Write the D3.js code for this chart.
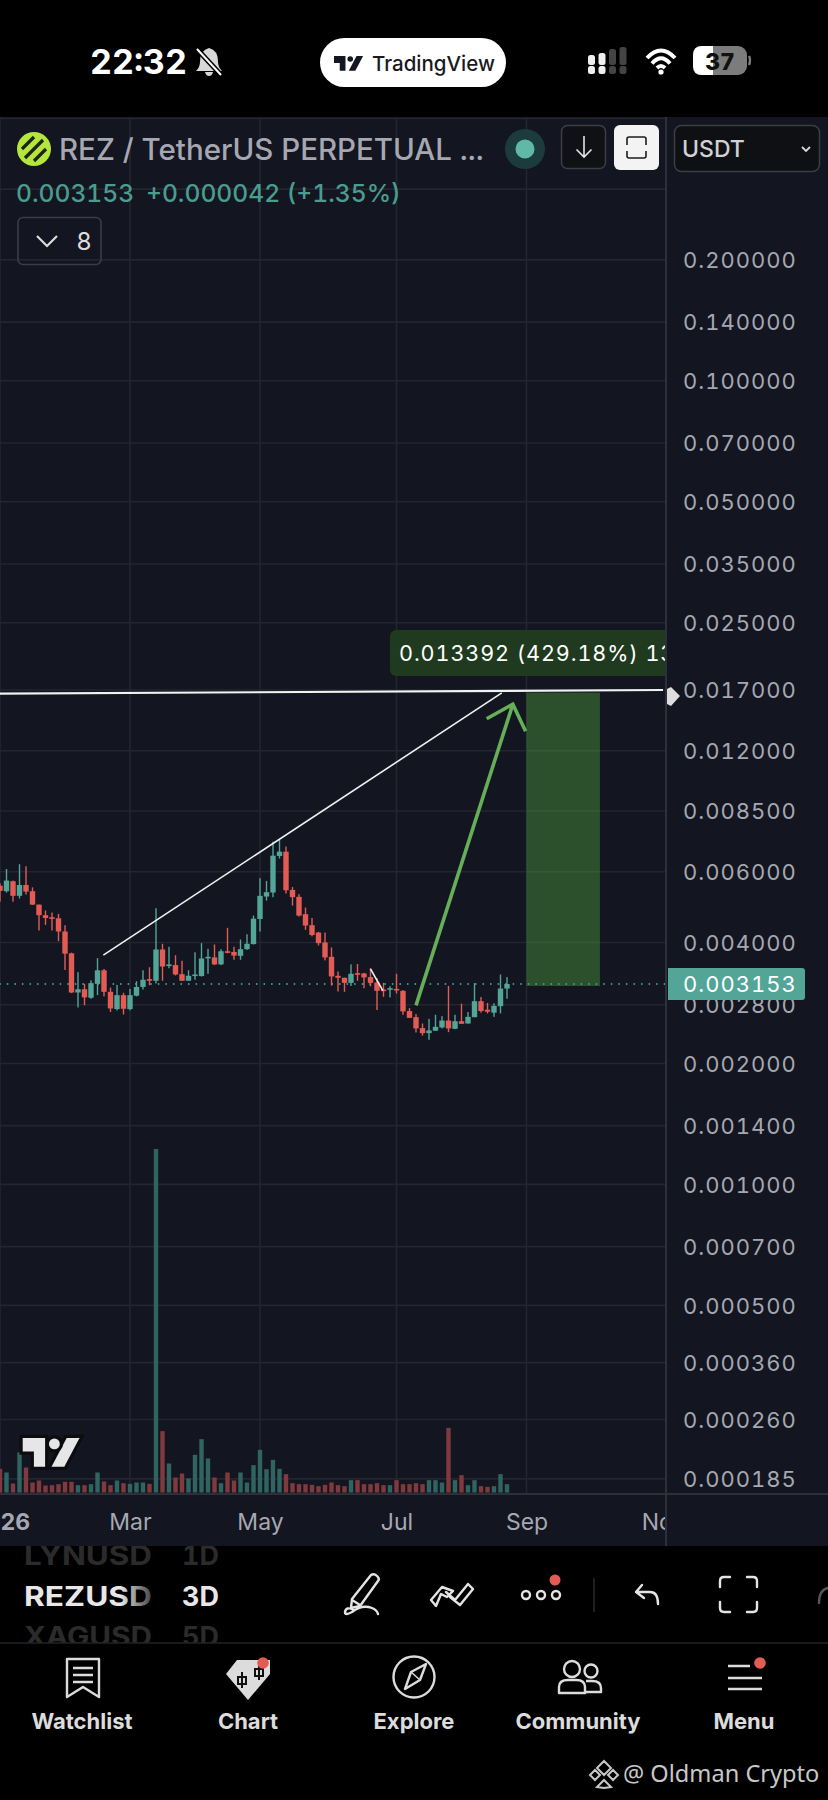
<!DOCTYPE html>
<html>
<head>
<meta charset="utf-8">
<title>REZUSDT</title>
<script src="https://cdn.jsdelivr.net/npm/d3@7"></script>
<style>
  html, body { margin: 0; padding: 0; background: #000; }
  svg { display: block; font-family: Inter, "Noto Sans", sans-serif; font-variant-numeric: tabular-nums; }
</style>
</head>
<body>
<svg id="chart" width="828" height="1800" viewBox="0 0 828 1800"></svg>
<script>
// 3D candles, one every three days from Jan 1 2026
const open = [0.005539, 0.005366, 0.005682, 0.005226, 0.005561, 0.005366, 0.004969, 0.004677, 0.004622, 0.004595,
  0.004260, 0.003759, 0.003003, 0.003060, 0.002914, 0.003156, 0.003411, 0.003015, 0.002731, 0.002958,
  0.002731, 0.002948, 0.003100, 0.003243, 0.003212, 0.003842, 0.003499, 0.003514, 0.003336, 0.003212,
  0.003305, 0.003299, 0.003657, 0.003671, 0.003528, 0.003804, 0.003789, 0.003705, 0.003849, 0.003963,
  0.004576, 0.005206, 0.005326, 0.006567, 0.006731, 0.005406, 0.005196, 0.004704, 0.004416, 0.004234,
  0.004000, 0.003684, 0.003305, 0.003268, 0.003174, 0.003355, 0.003349, 0.003280, 0.003180, 0.003055,
  0.003055, 0.003066, 0.003032, 0.002700, 0.002607, 0.002449, 0.002379, 0.002412, 0.002458, 0.002557,
  0.002439, 0.002547, 0.002514, 0.002607, 0.002857, 0.002721, 0.002675, 0.002777, 0.003072]
const high = [0.005616, 0.006094, 0.005704, 0.006264, 0.006191, 0.005486, 0.004969, 0.004805, 0.004749, 0.004713,
  0.004416, 0.003774, 0.003374, 0.003156, 0.003218, 0.003657, 0.003437, 0.003089, 0.003137, 0.002998,
  0.003066, 0.003205, 0.003411, 0.003471, 0.004868, 0.003970, 0.003902, 0.003718, 0.003603, 0.003411,
  0.003782, 0.003985, 0.003857, 0.003955, 0.003849, 0.004350, 0.003902, 0.004068, 0.004193, 0.004667,
  0.005781, 0.005693, 0.007131, 0.007198, 0.006932, 0.005496, 0.005276, 0.004887, 0.004604, 0.004250,
  0.004234, 0.003887, 0.003386, 0.003268, 0.003528, 0.003535, 0.003361, 0.003451, 0.003262, 0.003174,
  0.003112, 0.003343, 0.003043, 0.002746, 0.002654, 0.002514, 0.002581, 0.002643, 0.002622, 0.003118,
  0.002643, 0.002817, 0.002685, 0.003168, 0.002926, 0.002829, 0.002823, 0.003330, 0.003280]
const low = [0.005055, 0.005326, 0.005055, 0.005146, 0.005266, 0.004960, 0.004284, 0.004424, 0.004284, 0.004030,
  0.003417, 0.002992, 0.002757, 0.002792, 0.002897, 0.002958, 0.002937, 0.002685, 0.002711, 0.002648,
  0.002711, 0.002937, 0.003055, 0.003131, 0.003162, 0.003212, 0.003451, 0.003312, 0.003212, 0.003212,
  0.003230, 0.003293, 0.003343, 0.003514, 0.003514, 0.003759, 0.003623, 0.003623, 0.003834, 0.003955,
  0.004259, 0.005086, 0.005186, 0.006470, 0.005296, 0.004941, 0.004640, 0.004300, 0.004143, 0.003932,
  0.003610, 0.003125, 0.003021, 0.003015, 0.003118, 0.003212, 0.003078, 0.003112, 0.002716, 0.002931,
  0.002920, 0.002986, 0.002643, 0.002597, 0.002388, 0.002346, 0.002290, 0.002412, 0.002444, 0.002393,
  0.002434, 0.002510, 0.002514, 0.002607, 0.002675, 0.002664, 0.002612, 0.002664, 0.002897]
const close = [0.005376, 0.005704, 0.005226, 0.005561, 0.005356, 0.004969, 0.004677, 0.004604, 0.004585, 0.004260,
  0.003752, 0.003003, 0.003060, 0.002920, 0.003168, 0.003411, 0.003015, 0.002741, 0.002958, 0.002736,
  0.002958, 0.003100, 0.003230, 0.003212, 0.003842, 0.003485, 0.003528, 0.003330, 0.003212, 0.003305,
  0.003330, 0.003650, 0.003684, 0.003528, 0.003804, 0.003774, 0.003711, 0.003849, 0.003970, 0.004585,
  0.005226, 0.005336, 0.006579, 0.006731, 0.005396, 0.005186, 0.004667, 0.004408, 0.004176, 0.003985,
  0.003671, 0.003293, 0.003268, 0.003174, 0.003343, 0.003324, 0.003274, 0.003174, 0.003032, 0.003026,
  0.003078, 0.003043, 0.002695, 0.002597, 0.002444, 0.002379, 0.002416, 0.002467, 0.002557, 0.002444,
  0.002547, 0.002510, 0.002612, 0.002857, 0.002700, 0.002690, 0.002782, 0.003072, 0.003153]
const volume = [71, 60, 27, 120, 75, 30, 36, 21, 22, 25,
  32, 32, 22, 22, 25, 60, 33, 22, 36, 28,
  26, 30, 30, 26, 1030, 184, 87, 45, 57, 42,
  113, 160, 102, 45, 28, 60, 36, 60, 30, 82,
  128, 70, 98, 71, 55, 28, 25, 25, 23, 19,
  23, 30, 22, 19, 37, 37, 25, 25, 28, 22,
  22, 37, 25, 25, 28, 25, 37, 37, 30, 194,
  37, 52, 22, 37, 19, 17, 19, 55, 25]

const priceTicks = [0.2, 0.14, 0.1, 0.07, 0.05, 0.035, 0.025, 0.017, 0.012, 0.0085, 0.006, 0.004, 0.0028,
  0.002, 0.0014, 0.001, 0.0007, 0.0005, 0.00036, 0.00026, 0.000185]
const hiddenGrid = [0.45, 0.3]
const timeTicks = [0, 20, 40, 61, 81, 102]
const timeLabels = ['2026', 'Mar', 'May', 'Jul', 'Sep', 'Nov']
const lastPrice = 0.003153
const targetPrice = 0.01675
const targetLine = [[0, 0.01665], [102, 0.01700]]
const trendLine = [[15.9, 0.003722], [77.2, 0.01672]]
const smallLine = [[57, 0.003437], [58.9, 0.003037]]
const arrowLine = [[64, 0.002789], [78.9, 0.015675]]
const boxRange = [81, 92.3]

const BG = '#131520'
const GRID = '#23262f'
const AXIS = '#2d3039'
const GREEN = '#52a597'
const RED = '#e25c55'
const LABEL = '#a6a8b1'

const svg = d3.select('#chart')
const x = d3.scaleLinear().domain([0, 102]).range([0, 663])
const y = d3.scaleLog().domain([lastPrice, 0.017]).range([984, 690])
const yVol = d3.scaleLinear().domain([0, 1030]).range([1492.5, 1149])

svg.append('rect').attr('width', 828).attr('height', 1800).attr('fill', '#000')
svg.append('rect').attr('y', 117).attr('width', 828).attr('height', 1429).attr('fill', BG)

const defs = svg.append('defs')
defs.append('clipPath').attr('id', 'plot').append('rect')
  .attr('y', 117).attr('width', 666).attr('height', 1377)
defs.append('clipPath').attr('id', 'tape').append('rect')
  .attr('x', 0).attr('y', 1546).attr('width', 240).attr('height', 97)
const fade = defs.append('linearGradient').attr('id', 'fade')
  .attr('gradientUnits', 'userSpaceOnUse')
  .attr('x1', 120).attr('x2', 152).attr('y1', 0).attr('y2', 0)
fade.append('stop').attr('offset', 0).attr('stop-color', '#e8e8e8')
fade.append('stop').attr('offset', 1).attr('stop-color', '#444')

drawGrid()
const plot = svg.append('g').attr('clip-path', 'url(#plot)')
drawVolume(plot)
drawTarget(plot)
drawCandles(plot)
drawDrawings(plot)
drawAxes()
drawHeader()
drawStatusBar()
drawToolbar()
drawNav()

/**
 * Grid lines behind everything, from the same ticks as the axes.
 */
function drawGrid () {
  const g = svg.append('g').attr('stroke', GRID).attr('stroke-width', 1.6)
  g.selectAll('.h').data(priceTicks.concat(hiddenGrid)).join('line')
    .attr('x1', 0).attr('x2', 666)
    .attr('y1', d => y(d)).attr('y2', d => y(d))
  g.selectAll('.v').data(timeTicks.slice(0, 5)).join('line')
    .attr('x1', d => x(d)).attr('x2', d => x(d))
    .attr('y1', 117).attr('y2', 1494)
}

/**
 * Volume histogram at the foot of the chart.
 */
function drawVolume (g) {
  g.append('g').selectAll('rect').data(volume).join('rect')
    .attr('x', (d, i) => x(i) - 2.2)
    .attr('y', d => yVol(d))
    .attr('width', 4.4)
    .attr('height', d => yVol(0) - yVol(d))
    .attr('fill', (d, i) => close[i] >= open[i] ? '#2f6461' : '#803a3d')
}

/**
 * Wicks and bodies of the candles.
 */
function drawCandles (g) {
  const color = i => close[i] >= open[i] ? GREEN : RED
  const candle = g.append('g').selectAll('g').data(open).join('g')
  candle.append('rect')
    .attr('x', (d, i) => x(i) - 0.7)
    .attr('y', (d, i) => y(high[i]))
    .attr('width', 1.4)
    .attr('height', (d, i) => y(low[i]) - y(high[i]))
    .attr('fill', (d, i) => color(i))
  candle.append('rect')
    .attr('x', (d, i) => x(i) - 2.7)
    .attr('y', (d, i) => y(Math.max(open[i], close[i])))
    .attr('width', 5.4)
    .attr('height', (d, i) => Math.max(1.6, Math.abs(y(open[i]) - y(close[i]))))
    .attr('fill', (d, i) => color(i))
}

/**
 * Green long-position box and its label.
 */
function drawTarget (g) {
  g.append('rect')
    .attr('x', x(boxRange[0]))
    .attr('y', y(targetPrice))
    .attr('width', x(boxRange[1]) - x(boxRange[0]))
    .attr('height', y(lastPrice) - y(targetPrice) + 2)
    .attr('fill', '#53a93c')
    .attr('opacity', 0.4)
  g.append('line')
    .attr('x1', 0).attr('x2', 666)
    .attr('y1', y(lastPrice)).attr('y2', y(lastPrice))
    .attr('stroke', '#3f9d90')
    .attr('stroke-width', 1.8)
    .attr('stroke-linecap', 'round')
    .attr('stroke-dasharray', '0.1 7.45')
  g.append('rect')
    .attr('x', 390).attr('y', 630)
    .attr('width', 300).attr('height', 46)
    .attr('rx', 6)
    .attr('fill', '#1f3a1f')
  g.append('text')
    .attr('x', 399).attr('y', 661)
    .attr('font-size', 21.6)
    .attr('letter-spacing', 0.9)
    .attr('fill', '#fff')
    .text('0.013392 (429.18%) 13392')
}

/**
 * Hand drawn lines: target, trend lines and the arrow.
 */
function drawDrawings (g) {
  const line = d3.line().x(d => x(d[0])).y(d => y(d[1]))
  g.append('path').attr('d', line(targetLine))
    .attr('stroke', '#f2f2f2').attr('stroke-width', 2.2).attr('fill', 'none')
  g.append('path').attr('d', line(trendLine))
    .attr('stroke', '#f2f2f2').attr('stroke-width', 1.6).attr('fill', 'none')
  g.append('path').attr('d', line(smallLine))
    .attr('stroke', '#f2f2f2').attr('stroke-width', 1.6).attr('fill', 'none')

  const [from, to] = arrowLine
  const tx = x(to[0])
  const ty = y(to[1])
  const angle = Math.atan2(ty - y(from[1]), tx - x(from[0]))
  const arm = a => [tx - 30 * Math.cos(angle + a), ty - 30 * Math.sin(angle + a)]
  g.append('path').attr('d', line(arrowLine))
    .attr('stroke', '#66ae58').attr('stroke-width', 3.6).attr('fill', 'none')
  g.append('path').attr('d', d3.line()([arm(0.75), [tx, ty], arm(-0.75)]))
    .attr('stroke', '#66ae58').attr('stroke-width', 3.6).attr('fill', 'none')

  tvLogo(g, 22.7, 1438, 1.6, '#e6e6e8', '#0c0c0f')
}

/**
 * Price axis, time axis and the last price tag.
 */
function drawAxes () {
  const right = svg.append('g')
    .attr('transform', 'translate(666,0)')
    .call(d3.axisRight(y).tickValues(priceTicks).tickSize(0).tickPadding(17).tickFormat(d3.format('.6f')))
  right.select('.domain').remove()
  right.selectAll('text')
    .attr('font-family', 'Inter')
    .attr('font-size', 22)
    .attr('letter-spacing', 1)
    .attr('dy', '0.35em')
    .attr('fill', LABEL)

  const bottom = svg.append('g')
    .attr('transform', 'translate(0,1494)')
    .attr('clip-path', 'url(#timeClip)')
    .call(d3.axisBottom(x).tickValues(timeTicks).tickSize(0).tickPadding(20).tickFormat((d, i) => timeLabels[i]))
  defs.append('clipPath').attr('id', 'timeClip').append('rect')
    .attr('y', 0).attr('width', 666).attr('height', 50)
  bottom.select('.domain').remove()
  bottom.selectAll('text')
    .attr('font-family', 'Inter')
    .attr('font-size', 23)
    .attr('fill', LABEL)
    .attr('font-weight', (d, i) => i === 0 ? 700 : 400)

  svg.append('line').attr('x1', 0).attr('x2', 828).attr('y1', 1494).attr('y2', 1494)
    .attr('stroke', AXIS).attr('stroke-width', 2)
  svg.append('line').attr('x1', 666).attr('x2', 666).attr('y1', 117).attr('y2', 1546)
    .attr('stroke', AXIS).attr('stroke-width', 2)

  svg.append('path')
    .attr('d', 'M668 968 H802 Q805 968 805 971 V997 Q805 1000 802 1000 H668 Z')
    .attr('fill', GREEN)
  svg.append('text')
    .attr('x', 683).attr('y', y(lastPrice) + 8)
    .attr('font-size', 22).attr('letter-spacing', 1).attr('fill', '#fff')
    .text(d3.format('.6f')(lastPrice))

  svg.append('path')
    .attr('d', 'M667 689 L671 687 L680 696 L671 706 L667 704 Z')
    .attr('fill', '#dedede')
}

/**
 * Symbol line, change line and the buttons above the chart.
 */
function drawHeader () {
  svg.append('circle').attr('cx', 34).attr('cy', 149).attr('r', 17).attr('fill', '#b4e63c')
  svg.append('g').attr('stroke', '#1c2318').attr('stroke-width', 3.2)
    .selectAll('line').data([[-6, 6], [0, 9], [6, 6]]).join('line')
    .attr('x1', d => 34 + d[0] - d[1]).attr('y1', d => 149 + d[0] + d[1])
    .attr('x2', d => 34 + d[0] + d[1]).attr('y2', d => 149 + d[0] - d[1])

  svg.append('text').attr('x', 59).attr('y', 160)
    .attr('font-size', 29.5).attr('font-weight', 500).attr('fill', LABEL)
    .text('REZ / TetherUS PERPETUAL ...')

  svg.append('circle').attr('cx', 525).attr('cy', 149).attr('r', 20).attr('fill', '#1b3b3c')
  svg.append('circle').attr('cx', 525).attr('cy', 149).attr('r', 9.5).attr('fill', '#62b8a8')

  svg.append('rect').attr('x', 561.5).attr('y', 125.5).attr('width', 44).attr('height', 43).attr('rx', 6)
    .attr('fill', '#101114').attr('stroke', '#3c3e44').attr('stroke-width', 1.5)
  svg.append('path').attr('d', 'M584 136 V157 M576.5 149.5 L584 157 L591.5 149.5')
    .attr('stroke', '#e4e4e4').attr('stroke-width', 1.6).attr('fill', 'none')
  svg.append('rect').attr('x', 614).attr('y', 125).attr('width', 45).attr('height', 45).attr('rx', 6)
    .attr('fill', '#f3f3f3')
  svg.append('path')
    .attr('d', 'M627 145 V139 Q627 137 629 137 H644 Q646 137 646 139 V145 M627 151 V156 Q627 158 629 158 H644 Q646 158 646 156 V151')
    .attr('stroke', '#1c1c1e').attr('stroke-width', 1.6).attr('fill', 'none')

  svg.append('rect').attr('x', 674.5).attr('y', 125.5).attr('width', 145).attr('height', 46).attr('rx', 7)
    .attr('fill', '#0f1013').attr('stroke', '#3c3e44').attr('stroke-width', 1.5)
  svg.append('text').attr('x', 682).attr('y', 157)
    .attr('font-size', 23).attr('font-weight', 500).attr('fill', '#d0d1d5').text('USDT')
  svg.append('path').attr('d', 'M802 147 L806 151 L810 147')
    .attr('stroke', '#d8d8d8').attr('stroke-width', 1.8).attr('fill', 'none')

  svg.append('text').attr('x', 16).attr('y', 201.5)
    .attr('font-size', 24.6).attr('font-weight', 500).attr('fill', '#4a9c8f')
    .text('0.003153')
  svg.append('text').attr('x', 146).attr('y', 201.5)
    .attr('font-size', 24.6).attr('font-weight', 500).attr('fill', '#4a9c8f')
    .text('+0.000042 (+1.35%)')

  svg.append('rect').attr('x', 18).attr('y', 217.5).attr('width', 83).attr('height', 47).attr('rx', 5)
    .attr('fill', 'none').attr('stroke', '#3a3d47').attr('stroke-width', 1.6)
  svg.append('path').attr('d', 'M37 236 L47 246 L57 236')
    .attr('stroke', '#dcdcdc').attr('stroke-width', 2.2).attr('fill', 'none')
  svg.append('text').attr('x', 84).attr('y', 250).attr('text-anchor', 'middle')
    .attr('font-size', 24).attr('fill', '#dcdcdc').text('8')
}

/**
 * Phone status bar, with the TradingView pill.
 */
function drawStatusBar () {
  svg.append('text').attr('x', 90).attr('y', 74)
    .attr('font-size', 34).attr('font-weight', 700).attr('fill', '#fff').text('22:32')
  svg.append('path')
    .attr('d', 'M209 48 Q218 50 218 62 Q218 67 222 71 H196 Q200 67 200 62 Q200 50 209 48 Z M205 72 H213 Q212 76 209 76 Q206 76 205 72 Z')
    .attr('fill', '#d8d8d8')
  svg.append('path').attr('d', 'M197 49 L221 75')
    .attr('stroke', '#000').attr('stroke-width', 5)
  svg.append('path').attr('d', 'M197 49 L221 75')
    .attr('stroke', '#fff').attr('stroke-width', 2)

  svg.append('rect').attr('x', 320).attr('y', 38).attr('width', 186).attr('height', 49).attr('rx', 24.5)
    .attr('fill', '#fff')
  tvLogo(svg, 334, 56, 0.82, '#131722')
  svg.append('text').attr('x', 372).attr('y', 70.5)
    .attr('font-size', 20.5).attr('font-weight', 500).attr('fill', '#1a1a1e').text('TradingView')

  // signal bars, two lit and two dim
  svg.append('g').selectAll('rect').data([0, 1, 2, 3, 4, 5, 6, 7]).join('rect')
    .attr('x', d => 588 + (d % 4) * 10.5)
    .attr('y', d => d < 4 ? 66 : 47 + [8, 6, 2, 0][d - 4])
    .attr('width', 7)
    .attr('height', d => d < 4 ? 8 : 14 - [0, -2, -6, -8][d - 4] - 4)
    .attr('rx', 2.5)
    .attr('fill', d => (d === 0 || d === 1 || d === 4 || d === 5) ? '#f0f0f0' : '#444')

  svg.append('path').attr('d', 'M647 58 Q661 43 675 58 M652 63.5 Q661 53 670 63.5 M657 68 Q661 64 665 68')
    .attr('stroke', '#fff').attr('stroke-width', 4).attr('fill', 'none')
  svg.append('circle').attr('cx', 661).attr('cy', 72).attr('r', 2.6).attr('fill', '#fff')

  svg.append('rect').attr('x', 693).attr('y', 46).attr('width', 54).attr('height', 29).attr('rx', 9).attr('fill', '#7c7c7c')
  svg.append('path').attr('d', 'M702 46 H713 V75 H702 Q693 75 693 66 V55 Q693 46 702 46 Z').attr('fill', '#fff')
  svg.append('path').attr('d', 'M749 56 Q751 60 749 65').attr('stroke', '#7c7c7c').attr('stroke-width', 2.4).attr('fill', 'none')
  svg.append('text').attr('x', 720).attr('y', 70).attr('text-anchor', 'middle')
    .attr('font-size', 23).attr('font-weight', 800).attr('fill', '#111').text('37')
}

/**
 * TradingView mark, drawn on a 36 by 18 grid.
 */
function tvLogo (g, left, top, k, fill, outline) {
  const mark = g.append('g').attr('transform', `translate(${left},${top}) scale(${k})`)
  const paths = ['M0 0 H14 V18 H7 V8.5 H0 Z', 'M27.5 0 H35.5 L26 18 H18 Z']
  mark.selectAll('path').data(paths).join('path')
    .attr('d', d => d)
    .attr('fill', fill)
    .attr('stroke', outline || 'none')
    .attr('stroke-width', outline ? 4 : 0)
    .attr('paint-order', 'stroke')
  mark.append('circle').attr('cx', 19.8).attr('cy', 3.7).attr('r', 3.4)
    .attr('fill', fill)
    .attr('stroke', outline || 'none')
    .attr('stroke-width', outline ? 4 : 0)
    .attr('paint-order', 'stroke')
}

/**
 * Symbol and interval wheel plus the drawing tools row.
 */
function drawToolbar () {
  const tape = svg.append('g').attr('clip-path', 'url(#tape)')
  const rows = [['LYNUSD', '1D', 1565, '#2b2b2b'], ['REZUSD', '3D', 1606, null], ['XAGUSD', '5D', 1646, '#2b2b2b']]
  rows.forEach(r => {
    tape.append('text').attr('x', 24).attr('y', r[2])
      .attr('font-size', 27).attr('font-weight', 700)
      .attr('textLength', 128).attr('lengthAdjust', 'spacingAndGlyphs')
      .attr('fill', r[3] || 'url(#fade)').text(r[0])
    tape.append('text').attr('x', 182).attr('y', r[2])
      .attr('font-size', 27).attr('font-weight', 700)
      .attr('fill', r[3] || '#e8e8e8').text(r[1])
  })

  const tool = svg.append('g').attr('fill', 'none').attr('stroke', '#e4e4e4').attr('stroke-width', 2.4)
    .attr('stroke-linecap', 'round').attr('stroke-linejoin', 'round')
  tool.append('path').attr('d', 'M352 1599 L371 1575 Q374 1573 377 1576 Q380 1579 378 1581 L360 1606 L351 1608 Z M352 1600 L360 1605')
  tool.append('path').attr('d', 'M354 1610 Q346 1606 345 1612 Q345 1616 352 1612 Q362 1604 372 1608 Q377 1610 378 1614')
  tool.append('path').attr('d', 'M431 1600 L442 1587 L453 1591 L447 1597 L441 1594 L436 1606 Z M446 1592 L455 1600 L468 1584 L473 1589 L460 1605 L450 1597')
  tool.selectAll('circle').data([526, 541, 556]).join('circle')
    .attr('cx', d => d).attr('cy', 1595).attr('r', 4)
  tool.append('path').attr('d', 'M642 1585 L636 1592 L644 1598 M636 1592 H650 Q658 1592 658 1604')
  tool.append('path').attr('d', 'M730 1577 H724 Q720 1577 720 1581 V1587 M747 1577 H753 Q757 1577 757 1581 V1587 M730 1612 H724 Q720 1612 720 1608 V1602 M747 1612 H753 Q757 1612 757 1608 V1602')
  tool.append('path').attr('d', 'M819 1603 Q819 1590 828 1588').attr('stroke', '#555')
  svg.append('line').attr('x1', 594).attr('x2', 594).attr('y1', 1578).attr('y2', 1612)
    .attr('stroke', '#2a2a2a').attr('stroke-width', 1.5)
  svg.append('circle').attr('cx', 555).attr('cy', 1580).attr('r', 5.5).attr('fill', '#e25c55')
  svg.append('line').attr('x1', 0).attr('x2', 828).attr('y1', 1643).attr('y2', 1643)
    .attr('stroke', '#222').attr('stroke-width', 1.5)
}

/**
 * Bottom navigation and the watermark.
 */
function drawNav () {
  const tabs = ['Watchlist', 'Chart', 'Explore', 'Community', 'Menu']
  const centers = [82, 248, 414, 578, 744]
  svg.append('g').selectAll('text').data(tabs).join('text')
    .attr('x', (d, i) => centers[i]).attr('y', 1729)
    .attr('text-anchor', 'middle')
    .attr('font-size', 22).attr('font-weight', 700).attr('fill', '#dcdcdc')
    .text(d => d)

  const icon = svg.append('g').attr('fill', 'none').attr('stroke', '#dcdcdc').attr('stroke-width', 2.4)
    .attr('stroke-linejoin', 'round')
  icon.append('path').attr('d', 'M67 1659 H99 V1697 L83 1687 L67 1697 Z')
  icon.append('path').attr('d', 'M73 1668 H93 M73 1675 H93 M73 1682 H93')
  icon.append('circle').attr('cx', 414).attr('cy', 1677).attr('r', 20.5)
  icon.append('path').attr('d', 'M405 1689 L411 1672 L426 1664 L420 1680 Z')
  icon.append('path').attr('d', 'M411 1672 L420 1680').attr('stroke-width', 1.5)
  icon.append('circle').attr('cx', 572).attr('cy', 1669).attr('r', 8)
  icon.append('circle').attr('cx', 591).attr('cy', 1671).attr('r', 6.5)
  icon.append('path').attr('d', 'M559 1693 V1687 Q559 1680 568 1680 H576 Q585 1680 585 1687 V1693 Z')
  icon.append('path').attr('d', 'M586 1681 H592 Q601 1681 601 1688 V1692 H586')
  icon.append('path').attr('d', 'M728 1666 H750 M728 1678 H762 M728 1689 H762')

  svg.append('path')
    .attr('d', 'M226 1674 L237 1660 H270 V1674 L248 1700 Z')
    .attr('fill', '#dcdcdc')
  svg.append('path')
    .attr('d', 'M242 1672 V1688 M259 1664 V1680 M238 1677 H246 V1684 H238 Z M255 1669 H263 V1676 H255 Z')
    .attr('stroke', '#111').attr('stroke-width', 2).attr('fill', 'none')

  svg.append('g').selectAll('circle').data([[263, 1663], [760, 1663]]).join('circle')
    .attr('cx', d => d[0]).attr('cy', d => d[1]).attr('r', 5.8).attr('fill', '#e25c55')

  svg.append('path')
    .attr('d', 'M604 1761 L611 1768 L604 1775 L597 1768 Z M590 1775 L595 1770 L600 1775 L595 1780 Z M608 1775 L613 1770 L618 1775 L613 1780 Z M604 1780 L611 1787 L604 1788 L597 1787 Z')
    .attr('fill', 'none').attr('stroke', '#c8c8c8').attr('stroke-width', 2)
  svg.append('text').attr('x', 623).attr('y', 1782)
    .attr('font-family', 'Noto Sans').attr('font-size', 23.6).attr('fill', '#c8c8c8')
    .text('@ Oldman Crypto')
}
</script>
</body>
</html>
